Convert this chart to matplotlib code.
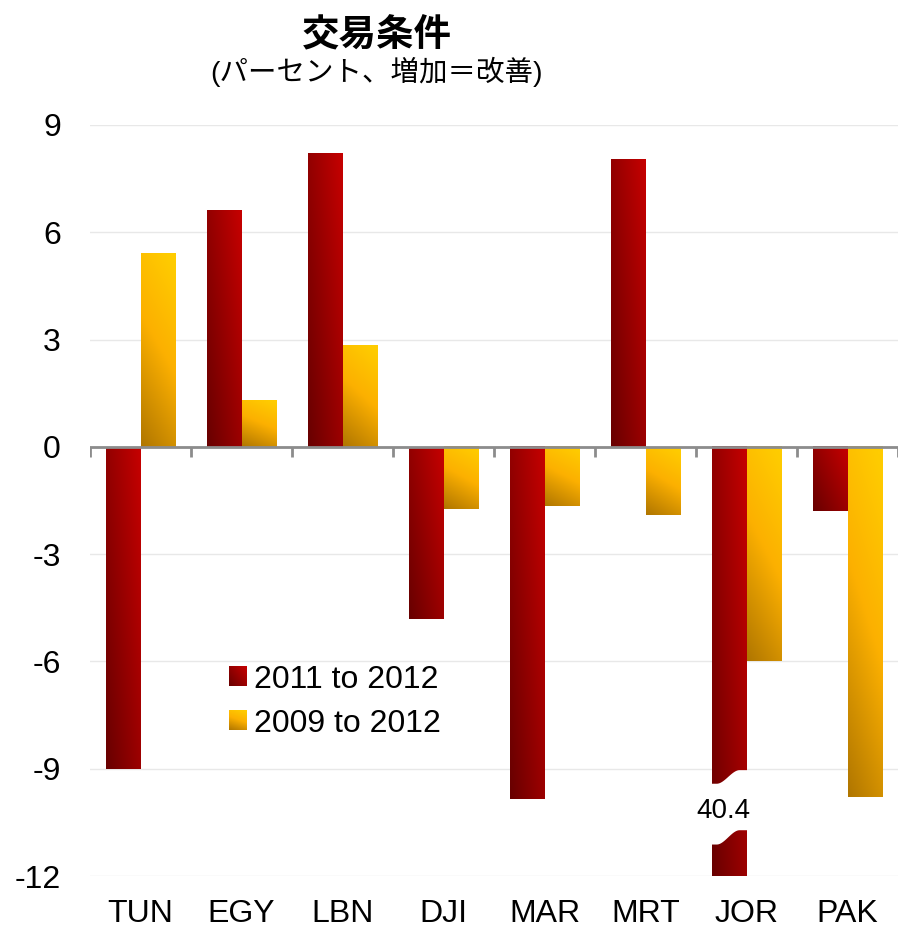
import numpy as np
import matplotlib
matplotlib.use("Agg")
import matplotlib.pyplot as plt
from matplotlib.patches import Polygon, Patch
from matplotlib.legend_handler import HandlerBase
from matplotlib.image import BboxImage
from matplotlib.transforms import Bbox, TransformedBbox

plt.rcParams['font.family'] = ['Liberation Sans', 'Noto Sans CJK JP', 'DejaVu Sans']

# data
countries = ["TUN", "EGY", "LBN", "DJI", "MAR", "MRT", "JOR", "PAK"]
chg_2011_2012 = [-9.0, 6.6, 8.2, -4.8, -9.85, 8.05, -40.4, -1.8]
chg_2009_2012 = [5.4, 1.3, 2.85, -1.75, -1.65, -1.9, -6.0, -9.8]
series_names = ["2011 to 2012", "2009 to 2012"]
yticks = [9, 6, 3, 0, -3, -6, -9, -12]

YMIN, YMAX = -12, 9
BW = 0.34
FS = 23


def red_grad(n=64):
    u = np.linspace(0, 1, n)[None, :]
    v = np.linspace(0, 1, n)[:, None]
    t = 0.55 * u + 0.45 * v
    lo = np.array([0x68, 0x00, 0x00]) / 255
    hi = np.array([0xC6, 0x00, 0x00]) / 255
    return lo + t[..., None] * (hi - lo)


def yellow_grad(n=64):
    u = np.linspace(0, 1, n)[None, :]
    v = np.linspace(0, 1, n)[:, None]
    t = np.clip(0.8 * v + 0.25 * u, 0, 1)
    c0 = np.array([176, 118, 0]) / 255
    c1 = np.array([252, 176, 0]) / 255
    c2 = np.array([255, 204, 0]) / 255
    a = np.clip(t / 0.55, 0, 1)[..., None]
    b = np.clip((t - 0.55) / 0.45, 0, 1)[..., None]
    col = c0 + a * (c1 - c0)
    col = np.where(t[..., None] > 0.55, c1 + b * (c2 - c1), col)
    return col


grads = [red_grad(), yellow_grad()]


class GradHandler(HandlerBase):
    def __init__(self, img):
        super().__init__()
        self.img = img

    def create_artists(self, legend, orig_handle, xdescent, ydescent,
                       width, height, fontsize, trans):
        bb = TransformedBbox(Bbox.from_bounds(-xdescent, -ydescent, width, height), trans)
        im = BboxImage(bb, data=self.img, origin='lower', interpolation='bilinear')
        return [im]


fig = plt.figure(figsize=(8.98, 9.3), dpi=100)
ax = fig.add_axes([90 / 898, 1 - 876 / 930, 1 - 90 / 898, (876 - 125) / 930])

x = np.arange(len(countries))
for k, vals in enumerate([chg_2011_2012, chg_2009_2012]):
    off = -BW / 2 if k == 0 else BW / 2
    for xi, v in zip(x, vals):
        lo, hi = (0, v) if v > 0 else (max(v, YMIN), 0)
        ax.imshow(grads[k], extent=[xi + off - BW / 2, xi + off + BW / 2, lo, hi],
                  origin='lower', aspect='auto', interpolation='bilinear', zorder=2)

# axis break on the JOR bar
jor = countries.index("JOR")
bx0 = jor - BW - 0.01
bx1 = jor + 0.01
xs = np.linspace(bx0, bx1, 40)
s = np.clip((xs - bx0) / (bx1 - bx0) * 1.6 - 0.25, 0, 1)
s = s * s * (3 - 2 * s)
top = -9.42 + 0.38 * s
bot = -11.12 + 0.40 * s
poly = np.vstack([np.column_stack([xs, top]), np.column_stack([xs[::-1], bot[::-1]])])
ax.add_patch(Polygon(poly, closed=True, facecolor='white', edgecolor='none', zorder=3))
ax.text(jor - BW / 2 - 0.06, -10.18, f"{abs(chg_2011_2012[jor]):.1f}", ha='center',
        va='center', fontsize=20, zorder=4)

ax.set_xlim(-0.5, len(countries) - 0.5)
ax.set_ylim(YMIN, YMAX)
ax.set_yticks(yticks)
ax.set_yticklabels([str(t) for t in yticks])
ax.yaxis.grid(True, color='#E8E8E8', lw=1)
ax.set_axisbelow(True)
for sp in ax.spines.values():
    sp.set_visible(False)
ax.tick_params(axis='y', length=0, labelsize=FS, pad=21)
ax.set_xticks(x)
ax.set_xticklabels(countries)
ax.tick_params(axis='x', length=0, labelsize=FS, pad=16.5)

ax.axhline(0, color='#8C8C8C', lw=2, zorder=5)
ax.vlines(np.arange(-0.5, len(countries), 1.0), -0.28, 0, color='#8C8C8C', lw=2, zorder=5)

handles = [Patch(label=series_names[0]), Patch(label=series_names[1])]
ax.legend(handles=handles, loc='upper left', bbox_to_anchor=(216 / 898, 1 - 652 / 930),
          bbox_transform=fig.transFigure, frameon=False, fontsize=FS, borderaxespad=0,
          handlelength=0.55, handleheight=0.55, handletextpad=0.25, labelspacing=0.45,
          handler_map={handles[0]: GradHandler(grads[0]), handles[1]: GradHandler(grads[1])})

fig.text(377 / 898, 1 - 35 / 930, "交易条件", ha='center', va='center', fontsize=27,
         fontweight='bold', family=['Noto Sans CJK JP', 'DejaVu Sans'])
fig.text(376 / 898, 1 - 72 / 930, "(パーセント、増加＝改善)", ha='center', va='center',
         fontsize=20.5, family=['Liberation Sans', 'Noto Sans CJK JP'])

fig.savefig("out.png", dpi=100)
